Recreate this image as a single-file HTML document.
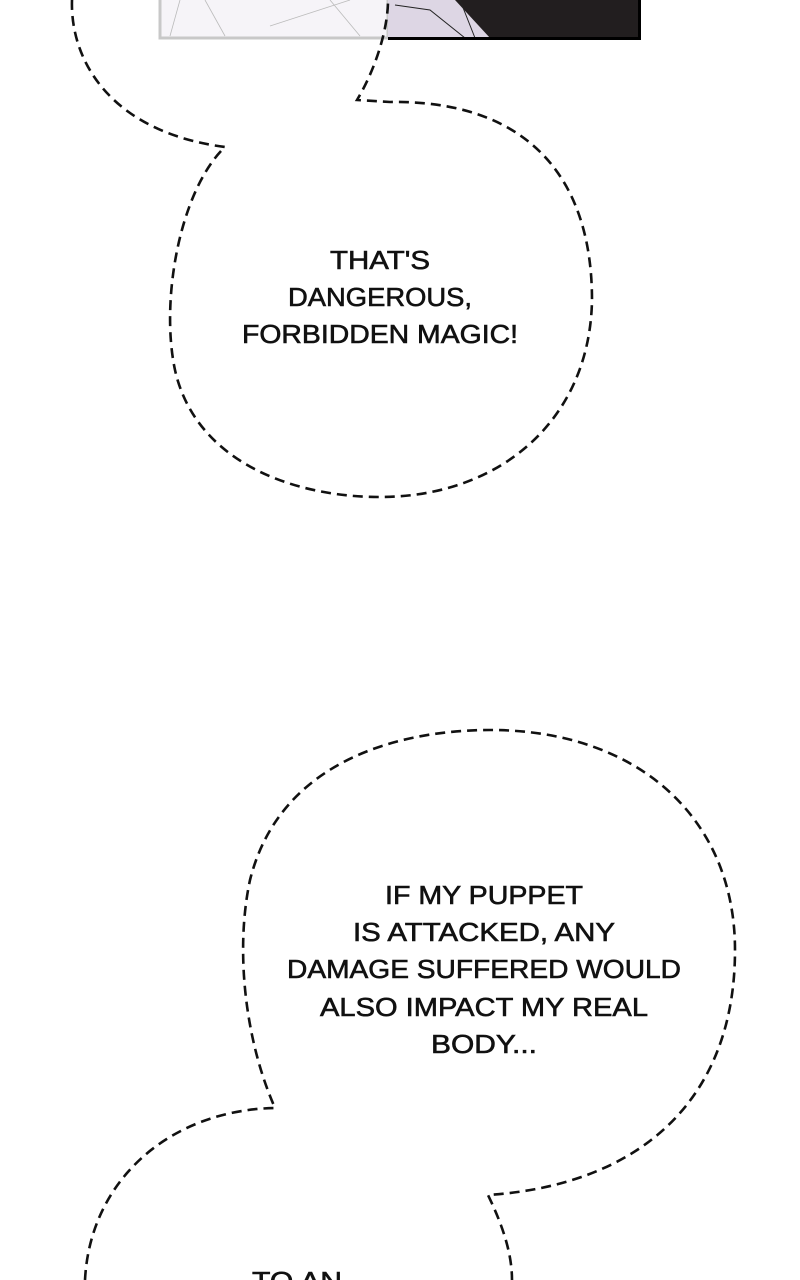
<!DOCTYPE html>
<html><head><style>
html,body{margin:0;padding:0;background:#fff;}
svg{display:block;}
text{font-family:"Liberation Sans",sans-serif;font-size:26px;fill:#111;stroke:#111;stroke-width:0.6;text-anchor:middle;}
</style></head><body>
<svg width="800" height="1280" viewBox="0 0 800 1280" xmlns="http://www.w3.org/2000/svg">
<rect width="800" height="1280" fill="#fff"/>
<rect x="160" y="-2" width="228" height="40" fill="#f6f4f8" stroke="#c8c8c8" stroke-width="3"/>
<g stroke="#bbb" stroke-width="0.8" fill="none">
<line x1="180" y1="0" x2="170" y2="36"/><line x1="205" y1="0" x2="225" y2="36"/>
<line x1="270" y1="26" x2="350" y2="0"/><line x1="330" y1="0" x2="360" y2="36"/>
</g>
<polygon points="388,0 455,0 490,38 388,38" fill="#ddd6e4"/>
<polygon points="455,0 640,0 640,38 490,38" fill="#221e1f"/>
<path d="M395,5 L430,10 L465,38 M460,0 L475,38" stroke="#222" stroke-width="1" fill="none"/>
<line x1="388" y1="38.5" x2="641" y2="38.5" stroke="#000" stroke-width="3"/>
<line x1="639.5" y1="0" x2="639.5" y2="40" stroke="#000" stroke-width="3"/>
<g fill="none" stroke="#111" stroke-width="2.6" stroke-dasharray="10,6">
<path d="M72,0 C70,60 110,132 225,147 C180,190 160,300 175,370 C195,460 290,497 380,497 C500,497 590,420 592,300 C592,170 520,100 390,102 L357,100 C375,70 388,30 388,0"/>
<path d="M85,1280 C90,1180 170,1110 275,1108 C245,1040 235,950 250,880 C280,760 400,730 490,730 C640,730 735,820 735,950 C735,1100 640,1185 488,1195 C500,1220 512,1250 512,1280"/>
</g>
<text x="380" y="269" textLength="100" lengthAdjust="spacingAndGlyphs">THAT'S</text>
<text x="380" y="306" textLength="184" lengthAdjust="spacingAndGlyphs">DANGEROUS,</text>
<text x="380" y="343" textLength="276" lengthAdjust="spacingAndGlyphs">FORBIDDEN MAGIC!</text>
<text x="484" y="904" textLength="198" lengthAdjust="spacingAndGlyphs">IF MY PUPPET</text>
<text x="484" y="941" textLength="262" lengthAdjust="spacingAndGlyphs">IS ATTACKED, ANY</text>
<text x="484" y="978" textLength="394" lengthAdjust="spacingAndGlyphs">DAMAGE SUFFERED WOULD</text>
<text x="484" y="1016" textLength="328" lengthAdjust="spacingAndGlyphs">ALSO IMPACT MY REAL</text>
<text x="484" y="1053" textLength="106" lengthAdjust="spacingAndGlyphs">BODY...</text>
<text x="297" y="1290" textLength="90" lengthAdjust="spacingAndGlyphs">TO AN</text>
</svg>
</body></html>
